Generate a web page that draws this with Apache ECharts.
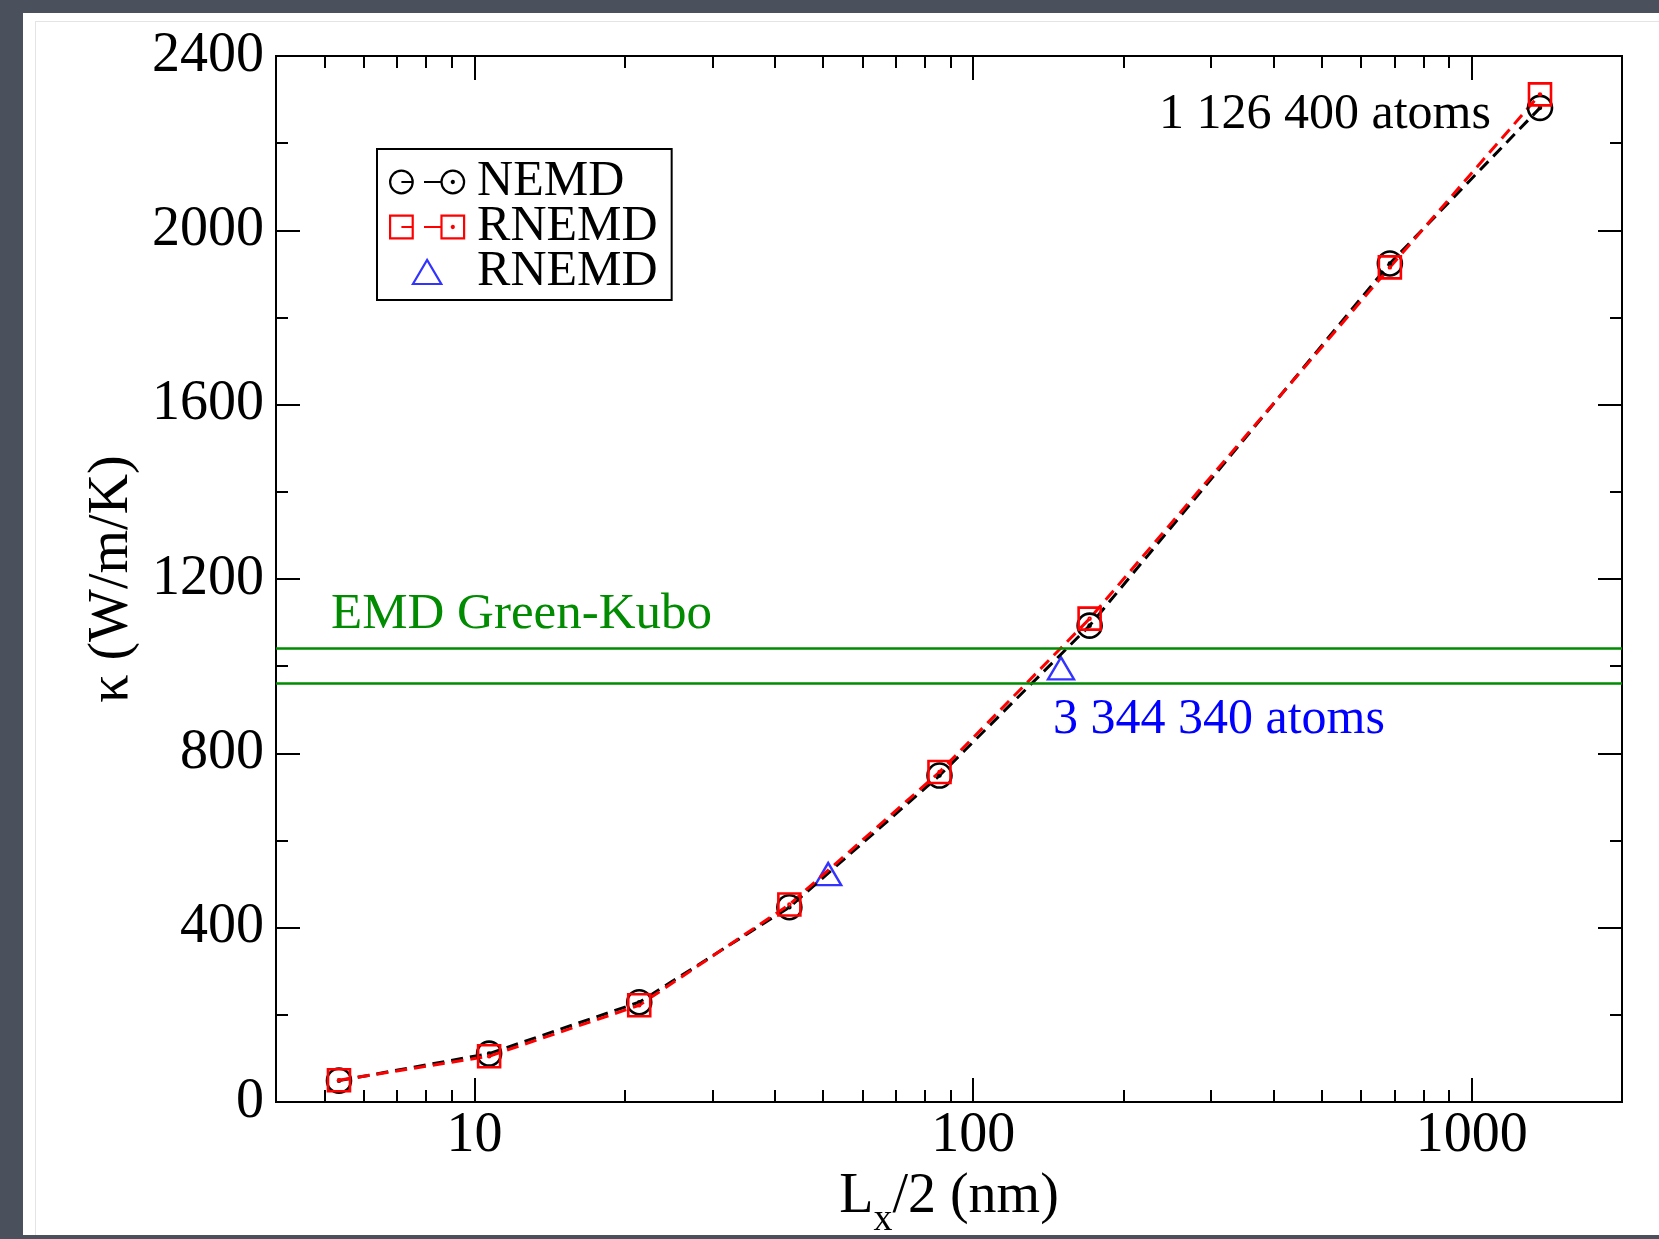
<!DOCTYPE html>
<html>
<head>
<meta charset="utf-8">
<script src="https://cdn.jsdelivr.net/npm/echarts@6/dist/echarts.min.js"></script>
<style>
  html, body { margin: 0; padding: 0; width: 1659px; height: 1239px; overflow: hidden; background: #4b505d; }
  #card { position: absolute; left: 23px; top: 13px; right: 0; bottom: 4px; background: #fff; }
  #card .edge { position: absolute; left: 12px; top: 8px; right: 0; bottom: 0; border-left: 1px solid #e4e4e4; border-top: 1px solid #e4e4e4; }
  #chart { position: absolute; left: 0; top: 0; width: 1659px; height: 1239px; }
</style>
</head>
<body>
<div id="card"><div class="edge"></div></div>
<div id="chart"></div>
<script>
// L_x/2 (nm) -- every system doubles the previous one
var lengthNm = [5.35, 10.7, 21.4, 42.8, 85.6, 171.2, 684.8, 1369.6];
var kappaNEMD = [49, 111, 229, 447, 749, 1093, 1924, 2281];
var kappaRNEMD = [50, 105, 222, 453, 757, 1109, 1915, 2312];
// wide RNEMD runs (blue triangles)
var lengthWide = [51.2, 150];
var kappaWide = [523, 995];
// EMD Green-Kubo band
var greenKubo = [960, 1040];
// axis ticks
var xMajor = [10, 100, 1000];
var xMinor = [5, 6, 7, 8, 9, 20, 30, 40, 50, 60, 70, 80, 90, 200, 300, 400, 500, 600, 700, 800, 900];

var FONT = '"Liberation Serif", "Times New Roman", serif';
var GREEN = '#008b00';

function pairs(xs, ys) {
  return xs.map(function (x, i) { return [x, ys[i]]; });
}

// symbols with a small dot in the middle, like xmgrace
var circleDot = 'path://M0,12 A12,12 0 1 1 24,12 A12,12 0 1 1 0,12 Z M11,12 A1,1 0 1 1 13,12 A1,1 0 1 1 11,12 Z';
var squareDot = 'path://M0,0 L24,0 L24,24 L0,24 Z M11,12 A1,1 0 1 1 13,12 A1,1 0 1 1 11,12 Z';
// legend icons: symbol - dash - symbol
var legCircle = 'path://M1,12 A11,11 0 1 1 23,12 A11,11 0 1 1 1,12 Z M12,12 L23,12 M34,12 L51,12 M51,12 A11,11 0 1 1 73,12 A11,11 0 1 1 51,12 Z M61,12 A1,1 0 1 1 63,12 A1,1 0 1 1 61,12 Z';
var legSquare = 'path://M1,1 L23,1 L23,23 L1,23 Z M12,12 L23,12 M34,12 L51,12 M51,1 L73,1 L73,23 L51,23 Z M61,12 A1,1 0 1 1 63,12 A1,1 0 1 1 61,12 Z';
var legTri = 'path://M0,22 L13,0 L26,22 Z';

var tickStyle = { color: '#000', width: 2 };

function xAxisDef(pos, ticks, len, labels) {
  return {
    type: 'log', min: 4, max: 2000, position: pos,
    axisLine: { show: false },
    axisTick: { show: true, inside: true, length: len, customValues: ticks, lineStyle: tickStyle },
    axisLabel: labels ? {
      show: true, customValues: xMajor, fontSize: 56, fontFamily: FONT, color: '#000', margin: 6,
      formatter: function (v) { return String(v); }
    } : { show: false },
    splitLine: { show: false },
    minorTick: { show: false }
  };
}

function yAxisDef(pos, labels) {
  return {
    type: 'value', min: 0, max: 2400, interval: 400, position: pos,
    axisLine: { show: false },
    axisTick: { show: true, inside: true, length: 24, lineStyle: tickStyle },
    minorTick: { show: true, splitNumber: 2, length: 12, lineStyle: tickStyle },
    splitLine: { show: false },
    axisLabel: labels ? {
      show: true, fontSize: 56, fontFamily: FONT, color: '#000', margin: 12,
      formatter: function (v) { return String(v); }
    } : { show: false }
  };
}

var bottomAxis = xAxisDef('bottom', xMajor, 24, true);
bottomAxis.name = '{a|L}{s|x}{a|/2 (nm)}';
bottomAxis.nameLocation = 'middle';
bottomAxis.nameGap = 31;
bottomAxis.nameTextStyle = {
  color: '#000', fontFamily: FONT,
  rich: {
    a: { fontSize: 56, fontFamily: FONT, color: '#000', lineHeight: 60, verticalAlign: 'middle' },
    s: { fontSize: 38, fontFamily: FONT, color: '#000', lineHeight: 84, verticalAlign: 'bottom' }
  }
};

var leftAxis = yAxisDef('left', true);
leftAxis.name = 'κ (W/m/K)';
leftAxis.nameLocation = 'middle';
leftAxis.nameGap = 136;
leftAxis.nameTextStyle = { fontSize: 56, fontFamily: FONT, color: '#000' };

var chart = echarts.init(document.getElementById('chart'));
chart.setOption({
  animation: false,
  grid: {
    left: 276, right: 37, top: 56, bottom: 137, outerBoundsMode: 'none', containLabel: false,
    show: true, borderColor: '#000', borderWidth: 2, backgroundColor: 'transparent'
  },
  xAxis: [
    bottomAxis,
    xAxisDef('bottom', xMinor, 12, false),
    xAxisDef('top', xMajor, 24, false),
    xAxisDef('top', xMinor, 12, false)
  ],
  yAxis: [leftAxis, yAxisDef('right', false)],
  legend: {
    left: 377, top: 149, orient: 'vertical',
    padding: [8, 14, 3, 12],
    itemGap: -5, itemWidth: 74, itemHeight: 24,
    borderColor: '#000', borderWidth: 2, backgroundColor: '#fff',
    selectedMode: false,
    textStyle: { fontSize: 50, fontFamily: FONT, color: '#000', lineHeight: 44, padding: [0, 0, 0, 8] },
    formatter: function (name) { return name.split(' ')[0]; },
    data: [
      { name: 'NEMD', icon: legCircle, itemStyle: { color: 'rgba(0,0,0,0)', borderColor: '#000', borderWidth: 2.2 } },
      { name: 'RNEMD', icon: legSquare, itemStyle: { color: 'rgba(0,0,0,0)', borderColor: '#ff0000', borderWidth: 2.2 } },
      { name: 'RNEMD wide', icon: legTri, itemStyle: { color: 'rgba(0,0,0,0)', borderColor: '#0000ff', borderWidth: 2.2 } }
    ]
  },
  series: [
    {
      name: 'NEMD', type: 'line', data: pairs(lengthNm, kappaNEMD),
      symbol: circleDot, symbolSize: 24, showAllSymbol: true,
      itemStyle: { color: 'rgba(0,0,0,0)', borderColor: '#000', borderWidth: 2.6 },
      lineStyle: { color: '#000', width: 3, type: [12, 7] },
      markLine: {
        silent: true, symbol: ['none', 'none'], label: { show: false },
        lineStyle: { color: GREEN, width: 2.5, type: 'solid' },
        data: greenKubo.map(function (v) { return { yAxis: v }; })
      }
    },
    {
      name: 'RNEMD', type: 'line', data: pairs(lengthNm, kappaRNEMD),
      symbol: squareDot, symbolSize: 22, showAllSymbol: true,
      itemStyle: { color: 'rgba(0,0,0,0)', borderColor: '#ff0000', borderWidth: 2.6 },
      lineStyle: { color: '#ff0000', width: 3, type: [12, 7] }
    },
    {
      name: 'RNEMD wide', type: 'scatter', data: pairs(lengthWide, kappaWide),
      symbol: 'triangle', symbolSize: [26, 22],
      itemStyle: { color: 'rgba(0,0,0,0)', borderColor: '#0000ff', borderWidth: 2.4 }
    }
  ],
  graphic: [
    { type: 'text', x: 331, y: 615, silent: true,
      style: { text: 'EMD Green-Kubo', fill: GREEN, font: '51px ' + FONT, verticalAlign: 'middle', align: 'left' } },
    { type: 'text', x: 1159, y: 115, silent: true,
      style: { text: '1 126 400 atoms', fill: '#000', font: '50px ' + FONT, verticalAlign: 'middle', align: 'left' } },
    { type: 'text', x: 1053, y: 720, silent: true,
      style: { text: '3 344 340 atoms', fill: '#0000ff', font: '50px ' + FONT, verticalAlign: 'middle', align: 'left' } }
  ]
});
</script>
</body>
</html>
